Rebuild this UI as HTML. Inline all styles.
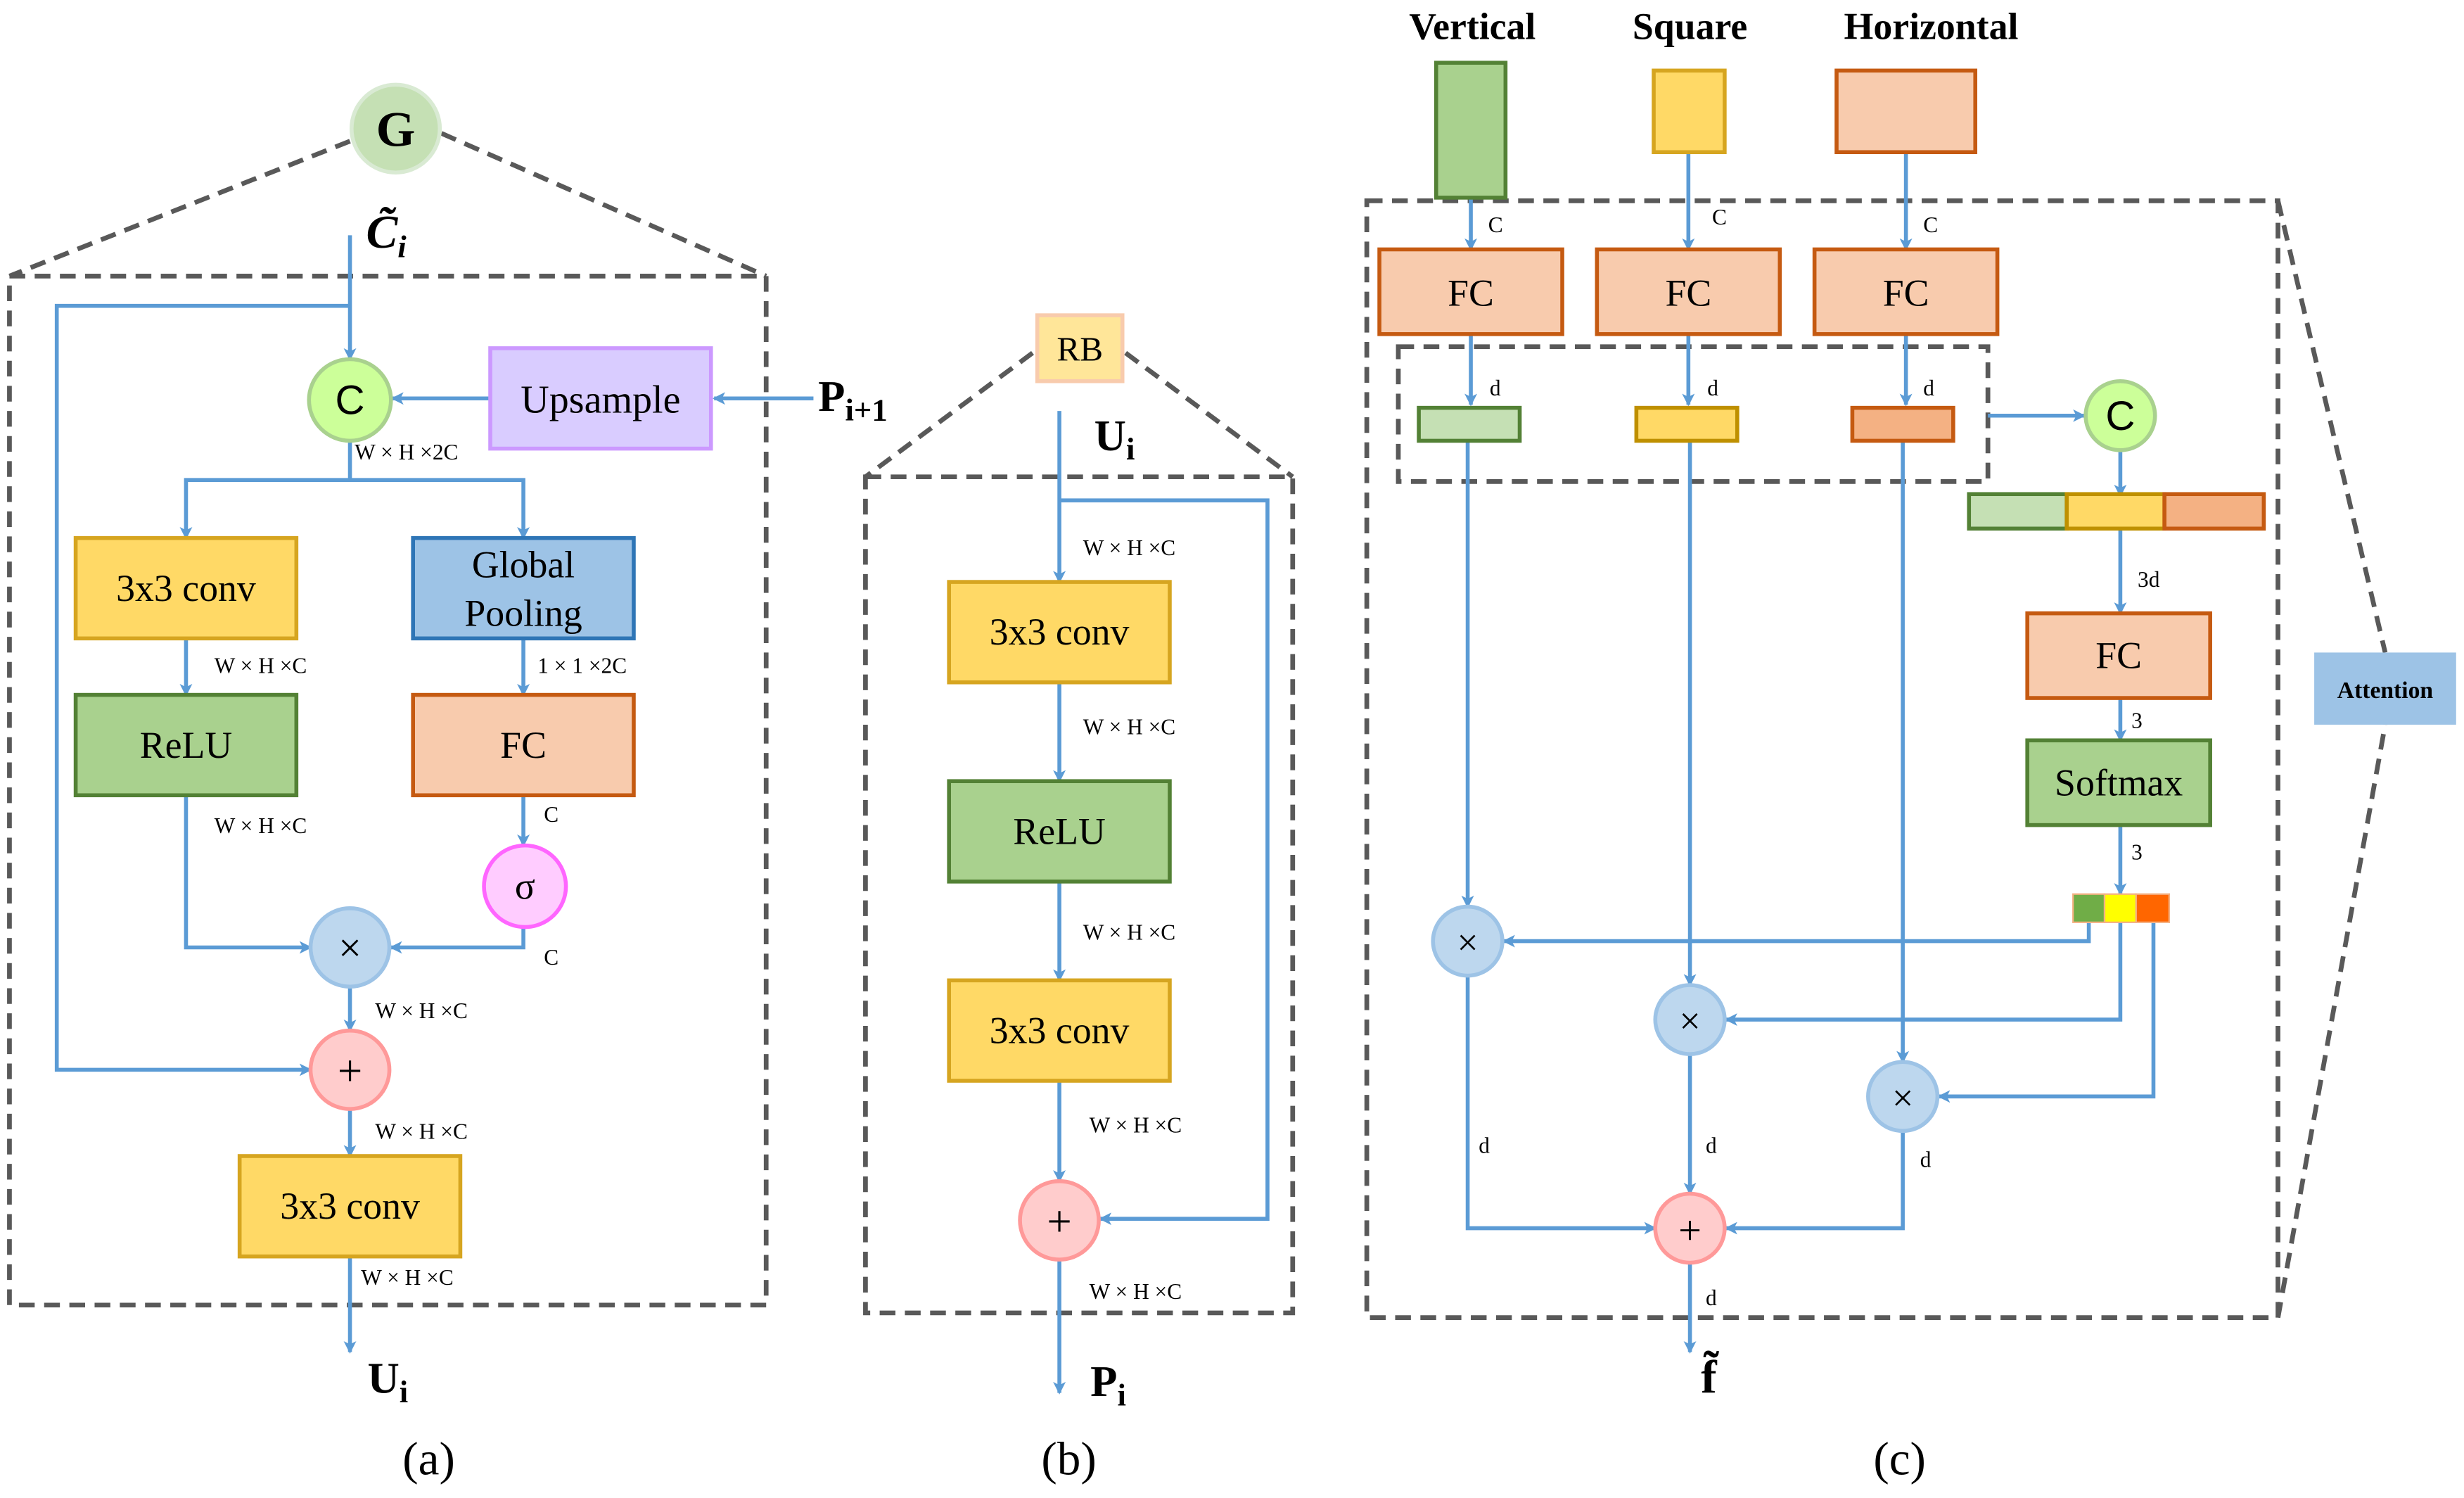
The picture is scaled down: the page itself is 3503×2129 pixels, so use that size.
<!DOCTYPE html>
<html><head><meta charset="utf-8"><style>
html,body{margin:0;padding:0;background:#fff;}
svg{display:block;}
text{font-family:"Liberation Serif",serif;fill:#000;}
</style></head><body>
<svg width="3503" height="2129" viewBox="0 0 1563 955" preserveAspectRatio="none" xmlns="http://www.w3.org/2000/svg">
<defs>
<marker id="a" markerWidth="8" markerHeight="8" refX="7" refY="4" orient="auto" markerUnits="userSpaceOnUse" viewBox="0 0 8 8"><path d="M0,0 L8,4 L0,8 L2,4 z" fill="#5b9bd5"/></marker>
</defs>
<g fill="none" stroke="#595959" stroke-width="3" stroke-dasharray="10,6">
<rect x="6" y="176" width="480" height="656"/>
<path d="M222,90 L6,176 M280,85 L486,176"/>
<rect x="549" y="304" width="271" height="533"/>
<path d="M655,225 L549,304 M714,225 L820,304"/>
<rect x="867" y="128" width="578" height="712"/>
<rect x="887" y="221" width="374" height="86"/>
<path d="M1445,128 L1513,416 M1445,840 L1513,462"/>
</g>
<g fill="none" stroke="#5b9bd5" stroke-width="2.5">
<!-- a -->
<path d="M222,150 L222,229" marker-end="url(#a)"/>
<path d="M222,195 L36,195 L36,682 L197,682" marker-end="url(#a)"/>
<path d="M516,254 L453,254" marker-end="url(#a)"/>
<path d="M311,254 L249,254" marker-end="url(#a)"/>
<path d="M222,281 L222,306 L118,306 L118,343" marker-end="url(#a)"/>
<path d="M222,306 L332,306 L332,343" marker-end="url(#a)"/>
<path d="M118,407 L118,443" marker-end="url(#a)"/>
<path d="M332,407 L332,443" marker-end="url(#a)"/>
<path d="M118,507 L118,604 L197,604" marker-end="url(#a)"/>
<path d="M332,507 L332,539" marker-end="url(#a)"/>
<path d="M332,591 L332,604 L248,604" marker-end="url(#a)"/>
<path d="M222,629 L222,657" marker-end="url(#a)"/>
<path d="M222,707 L222,737" marker-end="url(#a)"/>
<path d="M222,801 L222,862" marker-end="url(#a)"/>
<!-- b -->
<path d="M672,262 L672,371" marker-end="url(#a)"/>
<path d="M672,319 L804,319 L804,777 L698,777" marker-end="url(#a)"/>
<path d="M672,435 L672,498" marker-end="url(#a)"/>
<path d="M672,562 L672,625" marker-end="url(#a)"/>
<path d="M672,689 L672,753" marker-end="url(#a)"/>
<path d="M672,803 L672,888" marker-end="url(#a)"/>
<!-- c -->
<path d="M933,126 L933,159" marker-end="url(#a)"/>
<path d="M1071,97 L1071,159" marker-end="url(#a)"/>
<path d="M1209,97 L1209,159" marker-end="url(#a)"/>
<path d="M933,213 L933,258" marker-end="url(#a)"/>
<path d="M1071,213 L1071,258" marker-end="url(#a)"/>
<path d="M1209,213 L1209,258" marker-end="url(#a)"/>
<path d="M1261,265 L1322,265" marker-end="url(#a)"/>
<path d="M1345,287 L1345,316" marker-end="url(#a)"/>
<path d="M1345,337 L1345,391" marker-end="url(#a)"/>
<path d="M1345,445 L1345,472" marker-end="url(#a)"/>
<path d="M1345,526 L1345,570" marker-end="url(#a)"/>
<path d="M931,281 L931,578" marker-end="url(#a)"/>
<path d="M1072,281 L1072,628" marker-end="url(#a)"/>
<path d="M1207,281 L1207,677" marker-end="url(#a)"/>
<path d="M1325,588 L1325,600 L954,600" marker-end="url(#a)"/>
<path d="M1345,588 L1345,650 L1095,650" marker-end="url(#a)"/>
<path d="M1366,588 L1366,699 L1230,699" marker-end="url(#a)"/>
<path d="M931,622 L931,783 L1050,783" marker-end="url(#a)"/>
<path d="M1072,672 L1072,761" marker-end="url(#a)"/>
<path d="M1207,721 L1207,783 L1095,783" marker-end="url(#a)"/>
<path d="M1072,805 L1072,862" marker-end="url(#a)"/>
</g>
<!-- boxes a -->
<g stroke-width="2.5">
<circle cx="251" cy="82" r="28" fill="#c5e0b4" stroke="#d9ead3"/>
<circle cx="222" cy="255" r="26" fill="#ccff99" stroke="#a9d18e"/>
<rect x="311" y="222" width="140" height="64" fill="#d9ccff" stroke="#cc99ff"/>
<rect x="48" y="343" width="140" height="64" fill="#ffd966" stroke="#d6a520"/>
<rect x="262" y="343" width="140" height="64" fill="#9dc3e6" stroke="#2e75b6"/>
<rect x="48" y="443" width="140" height="64" fill="#a9d18e" stroke="#538135"/>
<rect x="262" y="443" width="140" height="64" fill="#f8cbad" stroke="#c55a11"/>
<circle cx="333" cy="565" r="26" fill="#ffccff" stroke="#ff66ff"/>
<circle cx="222" cy="604" r="25" fill="#bdd7ee" stroke="#9dc3e6"/>
<circle cx="222" cy="682" r="25" fill="#ffcccc" stroke="#ff9999"/>
<rect x="152" y="737" width="140" height="64" fill="#ffd966" stroke="#d6a520"/>
<!-- b -->
<rect x="658" y="201" width="54" height="42" fill="#ffe699" stroke="#f8cbad"/>
<rect x="602" y="371" width="140" height="64" fill="#ffd966" stroke="#d6a520"/>
<rect x="602" y="498" width="140" height="64" fill="#a9d18e" stroke="#538135"/>
<rect x="602" y="625" width="140" height="64" fill="#ffd966" stroke="#d6a520"/>
<circle cx="672" cy="778" r="25" fill="#ffcccc" stroke="#ff9999"/>
<!-- c -->
<rect x="911" y="40" width="44" height="86" fill="#a9d18e" stroke="#538135"/>
<rect x="1049" y="45" width="45" height="52" fill="#ffd966" stroke="#d6a520"/>
<rect x="1165" y="45" width="88" height="52" fill="#f8cbad" stroke="#c55a11"/>
<rect x="875" y="159" width="116" height="54" fill="#f8cbad" stroke="#c55a11"/>
<rect x="1013" y="159" width="116" height="54" fill="#f8cbad" stroke="#c55a11"/>
<rect x="1151" y="159" width="116" height="54" fill="#f8cbad" stroke="#c55a11"/>
<rect x="900" y="260" width="64" height="21" fill="#c5e0b4" stroke="#538135"/>
<rect x="1038" y="260" width="64" height="21" fill="#ffd966" stroke="#bf9000"/>
<rect x="1175" y="260" width="64" height="21" fill="#f4b183" stroke="#c55a11"/>
<circle cx="1345" cy="265" r="22" fill="#ccff99" stroke="#a9d18e"/>
<rect x="1249" y="315" width="62" height="22" fill="#c5e0b4" stroke="#538135"/>
<rect x="1311" y="315" width="62" height="22" fill="#ffd966" stroke="#bf9000"/>
<rect x="1373" y="315" width="63" height="22" fill="#f4b183" stroke="#c55a11"/>
<rect x="1286" y="391" width="116" height="54" fill="#f8cbad" stroke="#c55a11"/>
<rect x="1286" y="472" width="116" height="54" fill="#a9d18e" stroke="#538135"/>
<rect x="1315" y="570" width="20" height="18" fill="#70ad47" stroke="#f4b183" stroke-width="1"/>
<rect x="1335" y="570" width="20" height="18" fill="#ffff00" stroke="#f4b183" stroke-width="1"/>
<rect x="1355" y="570" width="21" height="18" fill="#ff6600" stroke="#f4b183" stroke-width="1"/>
<circle cx="931" cy="600" r="22" fill="#bdd7ee" stroke="#9dc3e6"/>
<circle cx="1072" cy="650" r="22" fill="#bdd7ee" stroke="#9dc3e6"/>
<circle cx="1207" cy="699" r="22" fill="#bdd7ee" stroke="#9dc3e6"/>
<circle cx="1072" cy="783" r="22" fill="#ffcccc" stroke="#ff9999"/>
<rect x="1468" y="416" width="90" height="46" fill="#9dc3e6" stroke="none"/>
</g>
<!-- text -->
<g font-size="24" text-anchor="middle">
<text x="251" y="93" font-size="32" font-weight="bold">G</text>
<text x="245" y="158" font-size="30" font-weight="bold" font-style="italic">C̃<tspan font-size="20" dy="6">i</tspan></text>
<text x="222" y="264" font-family="Liberation Sans" font-size="26" style="font-family:'Liberation Sans'">C</text>
<text x="381" y="263" font-size="25">Upsample</text>
<text x="541" y="262" font-size="28" font-weight="bold">P<tspan font-size="20" dy="6">i+1</tspan></text>
<text x="118" y="383">3x3 conv</text>
<text x="332" y="368">Global</text>
<text x="332" y="399">Pooling</text>
<text x="118" y="483">ReLU</text>
<text x="332" y="483">FC</text>
<text x="333" y="573">σ</text>
<text x="222" y="613" font-size="26">×</text>
<text x="222" y="692" font-size="28">+</text>
<text x="222" y="777">3x3 conv</text>
<text x="246" y="888" font-size="28" font-weight="bold">U<tspan font-size="20" dy="6">i</tspan></text>
<text x="272" y="940" font-size="30">(a)</text>
<text x="685" y="230" font-size="22">RB</text>
<text x="707" y="287" font-size="28" font-weight="bold">U<tspan font-size="20" dy="6">i</tspan></text>
<text x="672" y="411">3x3 conv</text>
<text x="672" y="538">ReLU</text>
<text x="672" y="665">3x3 conv</text>
<text x="672" y="788" font-size="28">+</text>
<text x="703" y="890" font-size="28" font-weight="bold">P<tspan font-size="20" dy="6">i</tspan></text>
<text x="678" y="940" font-size="30">(b)</text>
<text x="934" y="25" font-size="24" font-weight="bold">Vertical</text>
<text x="1072" y="25" font-size="24" font-weight="bold">Square</text>
<text x="1225" y="25" font-size="24" font-weight="bold">Horizontal</text>
<text x="933" y="195">FC</text>
<text x="1071" y="195">FC</text>
<text x="1209" y="195">FC</text>
<text x="1345" y="274" style="font-family:'Liberation Sans'" font-size="26">C</text>
<text x="1344" y="426">FC</text>
<text x="1344" y="507">Softmax</text>
<text x="931" y="609" font-size="24">×</text>
<text x="1072" y="659" font-size="24">×</text>
<text x="1207" y="708" font-size="24">×</text>
<text x="1072" y="793" font-size="26">+</text>
<text x="1084" y="888" font-size="30" font-weight="bold">f̃</text>
<text x="1205" y="940" font-size="30">(c)</text>
<text x="1513" y="445" font-size="15" font-weight="bold">Attention</text>
</g>
<g font-size="14">
<text x="225" y="293">W × H ×2C</text>
<text x="136" y="429">W × H ×C</text>
<text x="341" y="429">1 × 1 ×2C</text>
<text x="136" y="531">W × H ×C</text>
<text x="345" y="524">C</text>
<text x="345" y="615">C</text>
<text x="238" y="649">W × H ×C</text>
<text x="238" y="726">W × H ×C</text>
<text x="229" y="819">W × H ×C</text>
<text x="687" y="354">W × H ×C</text>
<text x="687" y="468">W × H ×C</text>
<text x="687" y="599">W × H ×C</text>
<text x="691" y="722">W × H ×C</text>
<text x="691" y="828">W × H ×C</text>
<text x="944" y="148">C</text>
<text x="1086" y="143">C</text>
<text x="1220" y="148">C</text>
<text x="945" y="252">d</text>
<text x="1083" y="252">d</text>
<text x="1220" y="252">d</text>
<text x="1356" y="374">3d</text>
<text x="1352" y="464">3</text>
<text x="1352" y="548">3</text>
<text x="938" y="735">d</text>
<text x="1082" y="735">d</text>
<text x="1218" y="744">d</text>
<text x="1082" y="832">d</text>
</g>
</svg>
</body></html>
